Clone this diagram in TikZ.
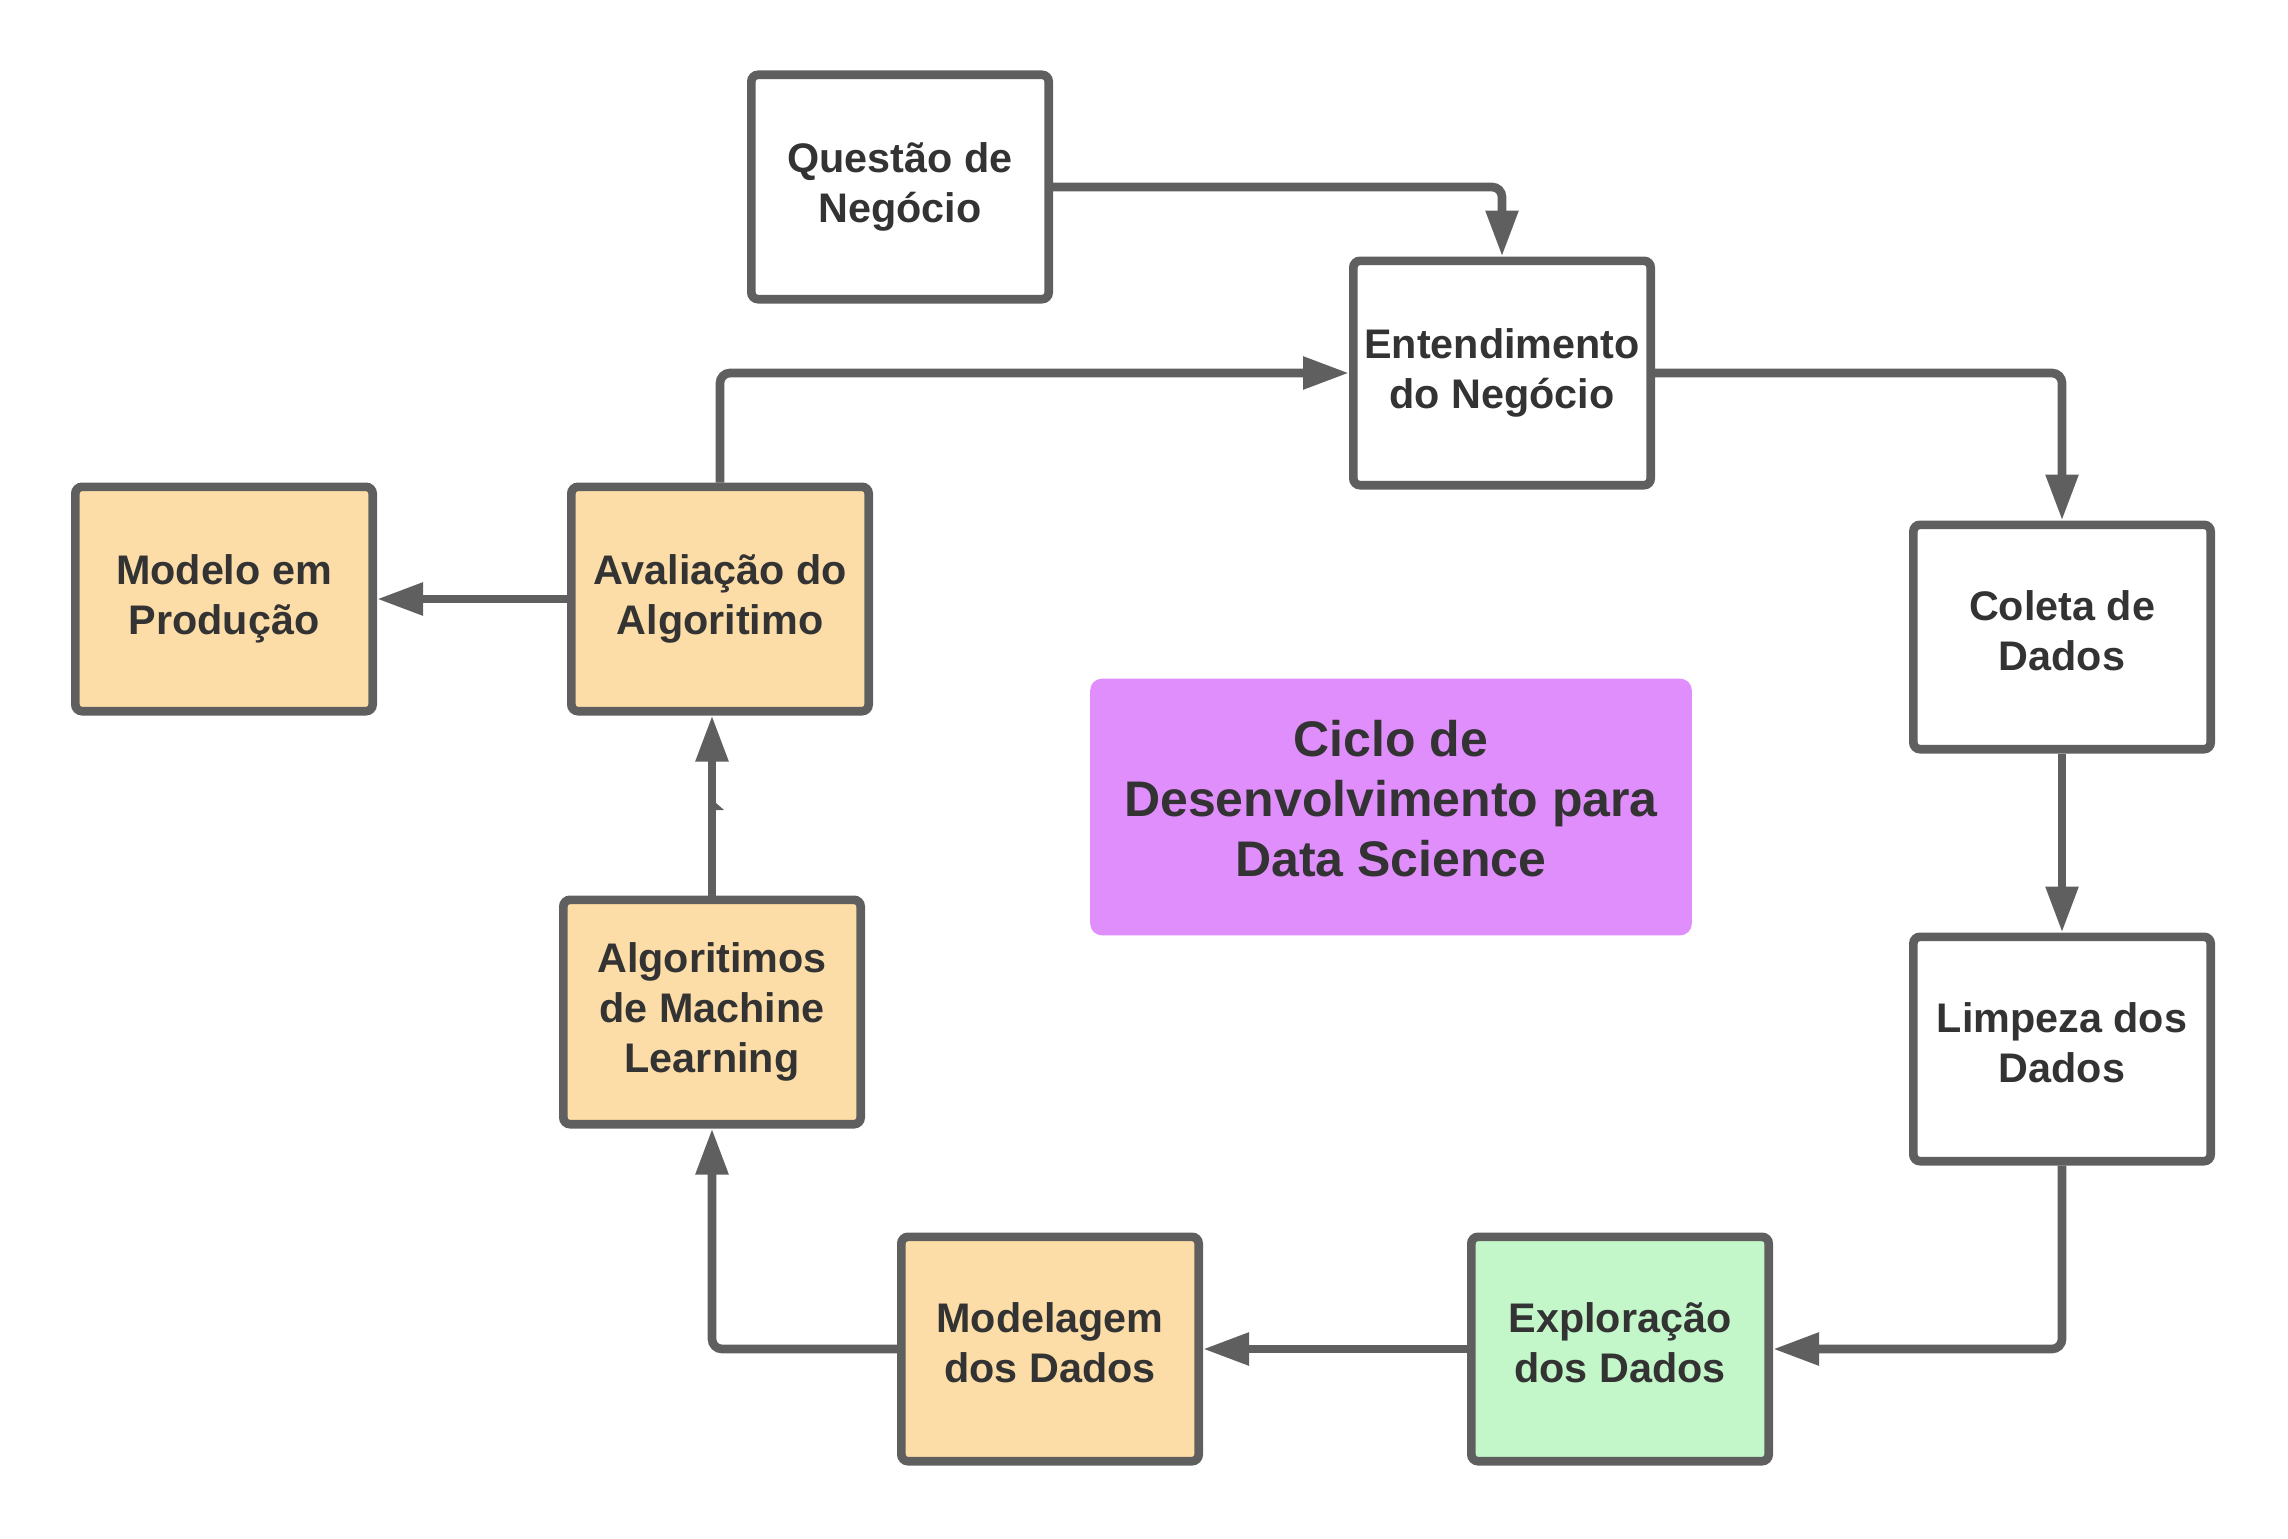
\documentclass[tikz,border=0pt]{standalone}
\usepackage{fontspec}
\setmainfont{Liberation Sans}
\usetikzlibrary{arrows.meta}
\definecolor{edgegray}{HTML}{5F5F5F}
\definecolor{txtgray}{HTML}{333333}
\definecolor{orangefill}{HTML}{FDDDA7}
\definecolor{greenfill}{HTML}{C3F7C9}
\definecolor{purplefill}{HTML}{E08EFC}
\tikzset{
  box/.style={draw=edgegray, line width=2.6pt, rounded corners=2pt, fill=white,
    minimum width=89.2pt, minimum height=67.3pt, inner sep=0pt},
  obox/.style={box, fill=orangefill},
  gbox/.style={box, fill=greenfill},
  boxtext/.style={align=center, text=txtgray, inner sep=0pt,
    font=\fontsize{12.4pt}{15pt}\selectfont\bfseries},
  raised/.style={yshift=1.8pt},
  titlebox/.style={fill=purplefill, rounded corners=3.5pt, minimum width=180.5pt,
    minimum height=77pt, inner sep=0pt},
  titletext/.style={align=center, text=txtgray, inner sep=0pt, yshift=2.6pt,
    font=\fontsize{15pt}{18pt}\selectfont\bfseries},
  arr/.style={draw=edgegray, line width=2.6pt, rounded corners=3pt,
    -{Triangle[length=13.8pt, width=9.3pt]}}
}
\begin{document}
\begin{tikzpicture}[x=0.3pt, y=-0.3pt]
\useasboundingbox (0,0) rectangle (2288,1538);
\node[box,  label={[boxtext]center:Questão de\\Negócio}]         (q)  at (900,187)   {};
\node[box,  label={[boxtext]center:Entendimento\\do Negócio}]    (e)  at (1502,373)  {};
\node[box,  label={[boxtext,raised]center:Coleta de\\Dados}]     (c)  at (2062,637)  {};
\node[box,  label={[boxtext,raised]center:Limpeza dos\\Dados}]   (l)  at (2062,1049) {};
\node[gbox, label={[boxtext,raised]center:Exploração\\dos Dados}] (x) at (1620,1349) {};
\node[obox, label={[boxtext,raised]center:Modelagem\\dos Dados}] (m)  at (1050,1349) {};
\node[obox, label={[boxtext]center:Algoritimos\\de Machine\\Learning}] (al) at (712,1012) {};
\node[obox, label={[boxtext]center:Avaliação do\\Algoritimo}]    (av) at (720,599)   {};
\node[obox, label={[boxtext]center:Modelo em\\Produção}]         (mp) at (224,599)   {};
\node[titlebox, label={[titletext]center:Ciclo de\\Desenvolvimento para\\Data Science}] (t) at (1391,807) {};

\draw[arr] (q.east) -| (e.north);
\draw[arr] (av.north) |- (e.west);
\draw[arr] (e.east) -| (c.north);
\draw[arr] (c.south) -- (l.north);
\draw[arr] (l.south) |- (x.east);
\draw[arr] (x.west) -- (m.east);
\draw[arr] (m.west) -| (al.south);
\draw[arr] (al.north) -- (al.north |- av.south);
\draw[arr] (av.west) -- (mp.east);
\fill[edgegray] (716,803) -- (724,810) -- (716,810) -- cycle;
\end{tikzpicture}
\end{document}
